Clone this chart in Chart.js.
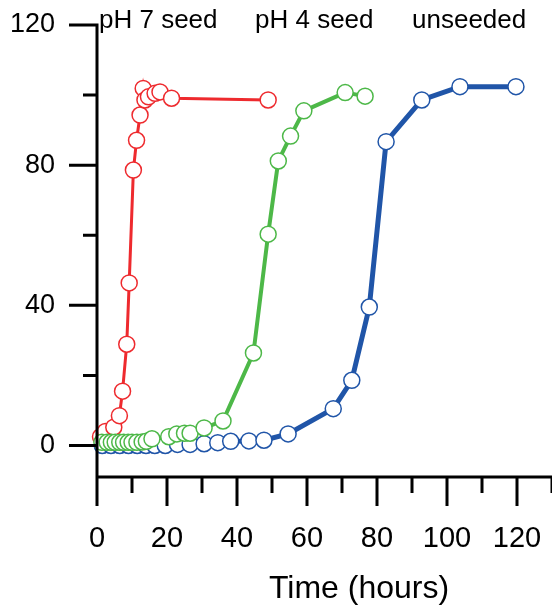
<!DOCTYPE html>
<html>
<head>
<meta charset="utf-8">
<script src="https://cdn.jsdelivr.net/npm/chart.js@4.4.1/dist/chart.umd.min.js"></script>
<style>
  html, body { margin: 0; padding: 0; background: #fff; }
  #wrap { width: 552px; height: 607px; }
</style>
</head>
<body>
<div id="wrap"><canvas id="myChart" width="552" height="607"></canvas></div>
<script>
// values (time in hours, signal in %)
const seriesNames = ['pH 7 seed', 'pH 4 seed', 'unseeded']

const ph7Time  = [1.0, 2.4, 4.8, 6.4, 7.3, 8.5, 9.2, 10.4, 11.3, 12.3, 13.2, 13.7, 14.7, 16.6, 18.0, 21.3, 48.9]
const ph7Value = [2.5, 4.0, 5.2, 8.5, 15.5, 28.9, 46.4, 78.6, 87.1, 94.3, 101.9, 98.6, 99.5, 100.5, 100.9, 99.1, 98.6]

const ph4Time  = [1.4, 2.9, 4.1, 5.2, 6.5, 7.6, 8.9, 10.0, 11.4, 12.9, 14.1, 15.7, 20.5, 22.8, 25.0, 26.6, 30.6, 36.0, 44.7, 48.9, 51.8, 55.3, 59.1, 70.9, 76.6]
const ph4Value = [0.9, 0.9, 0.9, 0.9, 0.9, 0.9, 0.9, 0.9, 0.9, 1.0, 1.2, 1.9, 2.5, 3.3, 3.5, 3.5, 5.0, 7.0, 26.4, 60.3, 81.2, 88.3, 95.5, 100.7, 99.7]

const unseededTime  = [1.5, 4.0, 6.5, 9.0, 11.5, 14.0, 16.5, 19.5, 23.0, 26.6, 30.6, 34.5, 38.2, 43.4, 47.7, 54.6, 67.5, 72.8, 77.8, 82.6, 92.8, 103.7, 119.7]
const unseededValue = [0, 0, 0, 0, 0, 0, 0, 0, 0.3, 0.3, 0.5, 0.8, 1.2, 1.3, 1.5, 3.3, 10.5, 18.6, 39.5, 86.7, 98.6, 102.4, 102.4]

const xTicks = [0, 10, 20, 30, 40, 50, 60, 70, 80, 90, 100, 110, 120, 130]
const yTicks = [0, 20, 40, 60, 80, 100, 120]

const colors = ['#ee2a2e', '#4db848', '#2055a8']

function toPoints(xs, ys) {
    return xs.map((t, i) => ({ x: t, y: ys[i] }))
}

function makeSet(label, pts, color, width, order) {
    return {
        label: label,
        data: pts,
        borderColor: color,
        borderWidth: width,
        pointRadius: 8,
        pointBorderWidth: 1.5,
        pointBorderColor: color,
        pointBackgroundColor: '#fff',
        tension: 0,
        clip: false,
        order: order
    }
}

const font = 'Liberation Sans, Arial, sans-serif'

// draws the axis lines, long/short ticks and the free text
const axesPlugin = {
    id: 'axes',
    afterDraw(chart) {
        const ctx = chart.ctx
        const xs = chart.scales.x
        const ys = chart.scales.y
        const x0 = xs.getPixelForValue(0)
        const yb = ys.getPixelForValue(-9)
        ctx.save()
        ctx.strokeStyle = '#000'
        ctx.lineWidth = 3
        ctx.beginPath()
        ctx.moveTo(x0, ys.getPixelForValue(120) - 1.5)
        ctx.lineTo(x0, yb + 29)
        ctx.moveTo(x0, yb)
        ctx.lineTo(xs.getPixelForValue(130) + 2, yb)
        xTicks.forEach(v => {
            const px = xs.getPixelForValue(v)
            ctx.moveTo(px, yb)
            ctx.lineTo(px, yb + (v % 20 === 0 ? 29 : 16))
        })
        yTicks.forEach(v => {
            const py = ys.getPixelForValue(v)
            ctx.moveTo(x0 + 1.5, py)
            ctx.lineTo(x0 - (v % 40 === 0 ? 28 : 14), py)
        })
        ctx.stroke()

        ctx.fillStyle = '#000'
        ctx.textBaseline = 'alphabetic'
        ctx.textAlign = 'left'
        ctx.font = '26px ' + font
        ctx.fillText(seriesNames[0], 99, 28)
        ctx.fillText(seriesNames[1], 255, 28)
        ctx.fillText(seriesNames[2], 412, 28)
        ctx.textAlign = 'center'
        ctx.font = '32px ' + font
        ctx.fillText('Time (hours)', 359, 598)
        ctx.restore()
    }
}

function createChart() {
    const ctx = document.getElementById('myChart')
    new Chart(ctx, {
        type: 'line',
        data: {
            datasets: [
                makeSet(seriesNames[2], toPoints(unseededTime, unseededValue), colors[2], 5, 3),
                makeSet(seriesNames[0], toPoints(ph7Time, ph7Value), colors[0], 3, 2),
                makeSet(seriesNames[1], toPoints(ph4Time, ph4Value), colors[1], 4, 1)
            ]
        },
        options: {
            responsive: false,
            animation: false,
            devicePixelRatio: 1,
            layout: { autoPadding: false, padding: { top: 25, right: 0, left: 0, bottom: 0 } },
            plugins: {
                legend: { display: false },
                tooltip: { enabled: false }
            },
            scales: {
                x: {
                    type: 'linear',
                    min: 0,
                    max: 130,
                    afterBuildTicks: s => { s.ticks = xTicks.map(v => ({ value: v })) },
                    afterFit: s => {
                        s.height = 130
                        s.paddingLeft = 0
                        s.paddingRight = 0
                    },
                    border: { display: false },
                    grid: { drawOnChartArea: false, tickLength: 29, tickColor: 'rgba(0,0,0,0)' },
                    ticks: {
                        autoSkip: false,
                        maxRotation: 0,
                        padding: 16,
                        color: '#000',
                        font: { family: font, size: 29 },
                        callback: v => (v % 20 === 0 ? String(v) : '')
                    }
                },
                y: {
                    min: -9,
                    max: 120,
                    afterBuildTicks: s => { s.ticks = yTicks.map(v => ({ value: v })) },
                    afterFit: s => {
                        s.width = 97
                        s.paddingTop = 0
                        s.paddingBottom = 0
                    },
                    border: { display: false },
                    grid: { drawOnChartArea: false, tickLength: 28, tickColor: 'rgba(0,0,0,0)' },
                    ticks: {
                        padding: 14,
                        color: '#000',
                        font: { family: font, size: 27 },
                        callback: v => (v % 40 === 0 ? String(v) : '')
                    }
                }
            }
        },
        plugins: [axesPlugin]
    })
}

createChart()
</script>
</body>
</html>
